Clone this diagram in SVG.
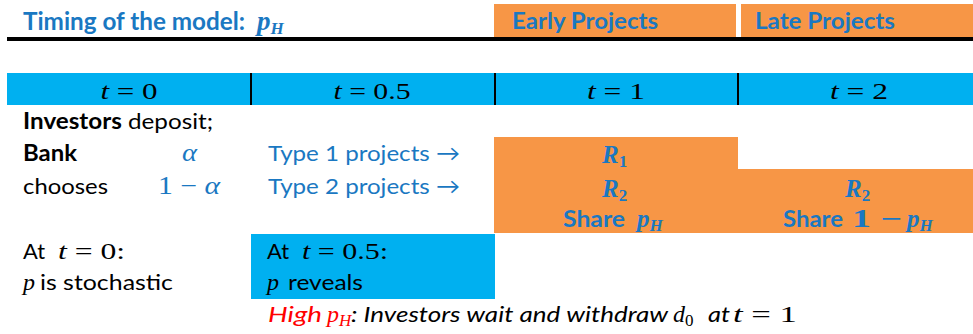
<svg xmlns="http://www.w3.org/2000/svg" width="973" height="334" viewBox="0 0 973 334">
<style>
.sans{font-family:Lato,"Liberation Sans",sans-serif;font-size:22px}
.b{font-weight:bold}
.blue{fill:#1a78c2}
.math{font-family:"Liberation Serif","DejaVu Serif",serif;font-size:24px}
.mb{font-family:"Liberation Serif","DejaVu Serif",serif;font-weight:bold;font-style:italic;font-size:25px}
.sub{font-size:17px}
.it{font-style:italic}
.up{font-style:normal}
.orange{fill:#f79646}
.cyan{fill:#00b0f0}
.red{fill:#ff0000}
</style>
<rect width="973" height="334" fill="#fff"/>
<g id="title">
<text x="23" y="30" class="sans b blue" style="font-size:24px" textLength="222" lengthAdjust="spacingAndGlyphs">Timing of the model:</text>
<text x="257" y="30" class="mb blue" style="font-size:27px">p<tspan class="sub" dy="4">H</tspan></text>
</g>
<g id="header-early">
<rect x="494" y="4" width="242" height="33" class="orange"/>
<text x="512" y="29" class="sans b blue" style="font-size:23px" textLength="146" lengthAdjust="spacingAndGlyphs">Early Projects</text>
</g>
<g id="header-late">
<rect x="741" y="4" width="232" height="33" class="orange"/>
<text x="755" y="29" class="sans b blue" style="font-size:23px" textLength="140" lengthAdjust="spacingAndGlyphs">Late Projects</text>
</g>
<rect id="rule" x="7" y="37" width="966" height="4" fill="#000"/>
<g id="timeline">
<rect x="7" y="73" width="966" height="32" class="cyan"/>
<rect x="250" y="73" width="2" height="32" fill="#000"/>
<rect x="494" y="73" width="2" height="32" fill="#000"/>
<rect x="737" y="73" width="2" height="32" fill="#000"/>
<text x="129" y="99" class="math" text-anchor="middle" textLength="57" lengthAdjust="spacingAndGlyphs"><tspan class="it">t</tspan> = 0</text>
<text x="372" y="99" class="math" text-anchor="middle" textLength="77" lengthAdjust="spacingAndGlyphs"><tspan class="it">t</tspan> = 0.5</text>
<text x="616" y="99" class="math" text-anchor="middle" textLength="58" lengthAdjust="spacingAndGlyphs"><tspan class="it">t</tspan> = 1</text>
<text x="859" y="99" class="math" text-anchor="middle" textLength="58" lengthAdjust="spacingAndGlyphs"><tspan class="it">t</tspan> = 2</text>
</g>
<g id="t0-text">
<text x="23" y="129" class="sans" textLength="190" lengthAdjust="spacingAndGlyphs"><tspan class="b">Investors</tspan> deposit;</text>
<text x="23" y="161" class="sans b" textLength="54" lengthAdjust="spacingAndGlyphs">Bank</text>
<text x="23" y="194" class="sans" textLength="85" lengthAdjust="spacingAndGlyphs">chooses</text>
<text x="182" y="161" class="math it blue" style="font-size:25px" textLength="15" lengthAdjust="spacingAndGlyphs">α</text>
<text x="158" y="194" class="math blue" style="font-size:25px" textLength="62" lengthAdjust="spacingAndGlyphs">1 − <tspan class="it">α</tspan></text>
<text x="268" y="161" class="sans blue" textLength="192" lengthAdjust="spacingAndGlyphs">Type 1 projects →</text>
<text x="268" y="194" class="sans blue" textLength="192" lengthAdjust="spacingAndGlyphs">Type 2 projects →</text>
</g>
<g id="early-block">
<rect x="494" y="137" width="244" height="96" class="orange"/>
<text x="602" y="163" class="mb blue">R<tspan class="sub up" dy="4">1</tspan></text>
<text x="602" y="197" class="mb blue">R<tspan class="sub up" dy="4">2</tspan></text>
<text x="563" y="227" class="sans b blue" style="font-size:23px" textLength="62" lengthAdjust="spacingAndGlyphs">Share</text>
<text x="637" y="227" class="mb blue">p<tspan class="sub" dy="4">H</tspan></text>
</g>
<g id="late-block">
<rect x="738" y="169" width="235" height="64" class="orange"/>
<text x="845" y="197" class="mb blue">R<tspan class="sub up" dy="4">2</tspan></text>
<text x="783" y="227" class="sans b blue" style="font-size:23px" textLength="60" lengthAdjust="spacingAndGlyphs">Share</text>
<text x="852" y="227" class="mb blue up" textLength="50" lengthAdjust="spacingAndGlyphs">1 − </text>
<text x="907" y="227" class="mb blue">p<tspan class="sub" dy="4">H</tspan></text>
</g>
<g id="t0-note">
<text x="23" y="259" class="sans" textLength="22" lengthAdjust="spacingAndGlyphs">At</text>
<text x="58" y="259" class="math" textLength="67" lengthAdjust="spacingAndGlyphs"><tspan class="it">t</tspan> = 0:</text>
<text x="23" y="290" class="math it">p</text>
<text x="40" y="290" class="sans" textLength="133" lengthAdjust="spacingAndGlyphs">is stochastic</text>
</g>
<g id="t05-note">
<rect x="251" y="234" width="244" height="65" class="cyan"/>
<text x="267" y="259" class="sans" textLength="22" lengthAdjust="spacingAndGlyphs">At</text>
<text x="302" y="259" class="math" textLength="86" lengthAdjust="spacingAndGlyphs"><tspan class="it">t</tspan> = 0.5:</text>
<text x="267" y="290" class="math it">p</text>
<text x="288" y="290" class="sans" textLength="75" lengthAdjust="spacingAndGlyphs">reveals</text>
</g>
<g id="high-note">
<text x="268" y="322" class="sans it red" textLength="54" lengthAdjust="spacingAndGlyphs">High</text>
<text x="327" y="322" class="math it red">p<tspan class="sub" dy="4">H</tspan></text>
<text x="351" y="322" class="sans it" textLength="317" lengthAdjust="spacingAndGlyphs">: Investors wait and withdraw</text>
<text x="673" y="322" class="math it">d<tspan class="sub up" dy="4">0</tspan></text>
<text x="708" y="322" class="sans it" textLength="22" lengthAdjust="spacingAndGlyphs">at</text>
<text x="733" y="322" class="math" textLength="64" lengthAdjust="spacingAndGlyphs"><tspan class="it">t</tspan> = 1</text>
</g>
</svg>
